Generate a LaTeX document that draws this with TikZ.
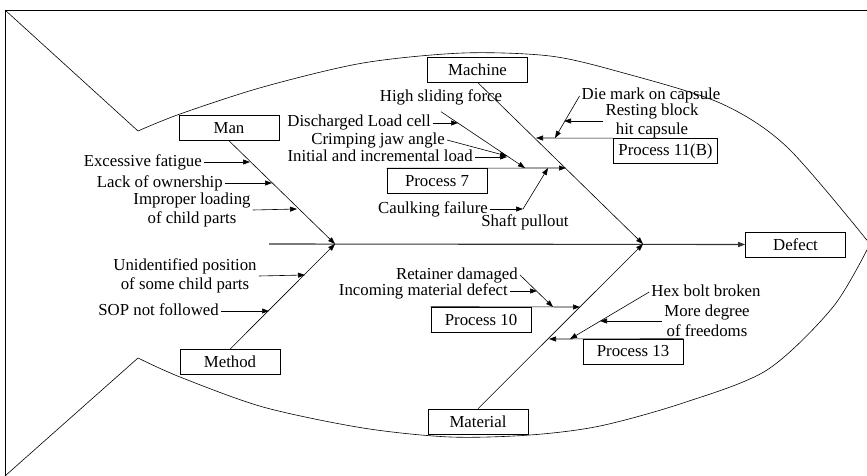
\documentclass[tikz,border=0pt]{standalone}
\usepackage{fontspec}
\setmainfont{Liberation Serif}
\usetikzlibrary{arrows.meta}

\begin{document}
\begin{tikzpicture}[x=1pt, y=-1pt,
    box/.style={draw, line width=0.6pt, minimum width=100pt, minimum height=25pt,
        inner xsep=5pt, inner ysep=0pt, font=\fontsize{16.8}{19}\selectfont},
    cause/.style={inner sep=2pt, text height=11.5pt, text depth=3.5pt,
        font=\fontsize{16.8}{19}\selectfont},
    cause2/.style={inner sep=2pt, align=center, font=\fontsize{16.8}{19.5}\selectfont},
    arr/.style={line width=0.6pt, -{Triangle[length=7pt,width=5pt]}}]
    \useasboundingbox (0,0) rectangle (867,476);

    % frame and fish
    \draw[line width=0.6pt] (5,476) -- (5,10) -- (867,10);
    \draw[line width=0.6pt] (5,10) -- (138,131);
    \draw[line width=0.6pt] (5,476) -- (138,358);
    \draw[line width=0.6pt, smooth] plot coordinates {(138,131) (180,114) (263,87)
        (363,63) (463,53) (550,56) (620,72) (720,103) (787,147) (870,244)};
    \draw[line width=0.6pt, smooth] plot coordinates {(138,358) (180,377) (263,407)
        (363,428) (450,437) (530,435) (600,426) (683,403) (767,370) (833,307) (870,244)};

    % spine
    \node[box] (defect) at (795.5,244.5) {Defect};
    \coordinate (tailend) at (269,244);
    \coordinate (j1) at (335,244);
    \coordinate (j2) at (643,244);
    \draw[arr, line width=1.1pt, black!80] (tailend) -- (defect.west);

    % main bones
    \foreach \n/\x/\y/\t in {man/229/128/Man, method/230/362/Method,
        machine/477.5/69.5/Machine, material/478/421.5/Material,
        ptseven/437/181/Process 7, ptenn/481/319.5/Process 10,
        pthirt/633/351.5/Process 13, peleven/665.5/151/Process 11(B)}
        \node[box] (\n) at (\x,\y) {\t};
    \draw[arr] (man.south) -- (j1);
    \draw[arr] (method.north) -- (j1);
    \draw[arr] (machine.south) -- (j2);
    \draw[arr] (material.north) -- (j2);

    % process bones
    \coordinate (mc-a) at (536,138);
    \coordinate (mc-b) at (566,168);
    \coordinate (mt-a) at (580,307);
    \coordinate (mt-b) at (549,339);
    \draw[arr] (peleven.north west) -- (mc-a);
    \draw[arr] (ptseven.north west) -- (mc-b);
    \draw[arr] (ptenn.north west) -- (mt-a);
    \draw[arr] (pthirt.north east) -- (mt-b);

    % one-line causes
    \foreach \n/\xe/\y/\xt/\t in {fatigue/204/162/250/Excessive fatigue,
        ownership/225/183/272/Lack of ownership, sop/221/311/269/SOP not followed,
        discharged/433/123/458/Discharged Load cell,
        initial/475/157/507/Initial and incremental load,
        caulking/490/209/523/Caulking failure,
        incoming/510/291/537/Incoming material defect}
    {
        \node[cause, anchor=east] (\n) at (\xe,\y) {\t};
        \coordinate (\n-tip) at (\xt,\y);
        \draw[arr] (\n.east) -- (\n-tip);
    }

    % two-line causes
    \node[cause2] (improper) at (192,210) {Improper loading\\of child parts};
    \node[cause2] (unident) at (185,276) {Unidentified position\\of some child parts};
    \node[cause2, inner ysep=0pt] (resting) at (652,121) {Resting block\\hit capsule};
    \node[cause2] (moredeg) at (707,321) {More degree\\of freedoms};
    \coordinate (man-c) at (297,209);
    \coordinate (method-a) at (305,275);
    \draw[arr] (improper.east) -- (man-c);
    \draw[arr] (unident.east) -- (method-a);

    % machine side
    \node[cause] (hsf) at (441,98) {High sliding force};
    \node[cause, anchor=east] (crimping) at (447,140) {Crimping jaw angle};
    \node[cause] (shaft) at (525,222) {Shaft pullout};
    \node[cause, inner ysep=0pt] (die) at (651,96) {Die mark on capsule};
    \coordinate (p7-a) at (525,168);
    \coordinate (p7-b) at (548,168);
    \coordinate (hsf-mid) at (507,156);
    \coordinate (p11-a) at (555,138);
    \coordinate (die-mid) at (564,121);
    \draw[arr] ([yshift=-4pt]hsf.south) -- (p7-a);
    \draw[arr] (crimping.east) -- (hsf-mid);
    \draw[arr] (caulking-tip) -- (p7-b);
    \draw[arr] (die.west) -- (p11-a);
    \draw[arr] (resting.west) -- (die-mid);

    % material side
    \node[cause, anchor=east] (retainer) at (520,275) {Retainer damaged};
    \node[cause] (hex) at (706,292) {Hex bolt broken};
    \coordinate (p10-a) at (553,307);
    \coordinate (p13-a) at (570,339);
    \coordinate (hex-mid) at (600,321);
    \draw[arr] (retainer.east) -- (p10-a);
    \draw[arr] (hex.west) -- (p13-a);
    \draw[arr] (moredeg.west) -- (hex-mid);
\end{tikzpicture}
\end{document}
